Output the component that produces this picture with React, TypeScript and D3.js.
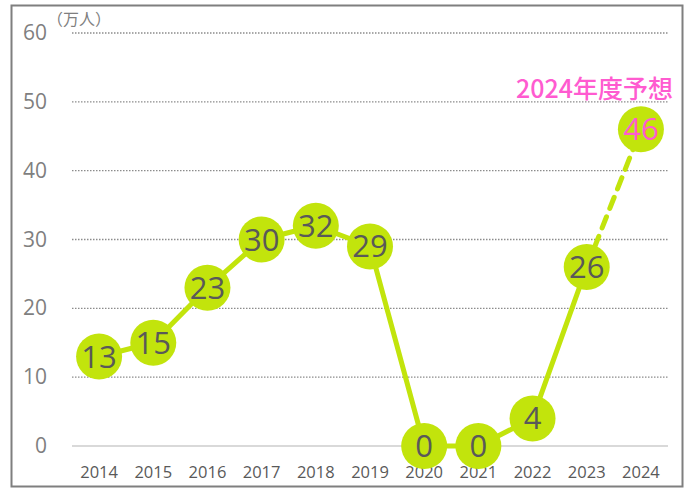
import React from "react";
import * as d3 from "d3";

const years = ["2014","2015","2016","2017","2018","2019","2020","2021","2022","2023","2024"];
const visitors = [13, 15, 23, 30, 32, 29, 0, 0, 4, 26, 46];
const yTicks = [0, 10, 20, 30, 40, 50, 60];
const unitLabel = "（万人）";
const forecastLabel = "2024年度予想";

export default function App() {
  const W = 687, H = 490;
  const x = d3.scaleBand<string>().domain(years).range([72, 668]);
  const y = d3.scaleLinear().domain([0, 60]).range([446, 33]);
  const cx = (i: number) => (x(years[i]) as number) + x.bandwidth() / 2;
  const line = d3.line<number>().x((_, i) => cx(i)).y(d => y(d));
  const solid = visitors.slice(0, 10);
  const lastTwo = visitors.slice(9);
  const green = "#c2e40c";
  const font = "'Open Sans', 'Noto Sans', sans-serif";
  return (
    <div style={{ position: "fixed", left: 0, top: 0 }}>
      <svg width={W} height={H} style={{ display: "block", background: "#fff" }}>
        <rect x={11.5} y={5.5} width={671} height={481} fill="#fff" stroke="#7f7f7f" strokeWidth={2} />
        {yTicks.map(t => (
          <g key={t}>
            <line x1={72} x2={668} y1={y(t)} y2={y(t)}
              stroke={t === 0 ? "#d9d9d9" : "#8c8c8c"} strokeWidth={t === 0 ? 2 : 1.3}
              strokeDasharray={t === 0 ? undefined : "1.5,1.5"} />
            <text x={47} y={y(t) + 7} textAnchor="end" fontSize={21} fill="#7f7f7f" fontFamily={font}>{t}</text>
          </g>
        ))}
        <text x={47} y={25} fontSize={16} fill="#7f7f7f" fontFamily="'Noto Sans CJK JP', sans-serif">{unitLabel}</text>
        {years.map((yr, i) => (
          <text key={yr} x={cx(i)} y={478} textAnchor="middle" fontSize={16.5} fill="#595959" fontFamily={font}>{yr}</text>
        ))}
        <path d={line(solid) || ""} fill="none" stroke={green} strokeWidth={5} strokeLinejoin="round" />
        <path d={d3.line<number>().x((_, i) => cx(i + 9)).y(d => y(d))(lastTwo) || ""}
          fill="none" stroke={green} strokeWidth={5} strokeDasharray="12,9" strokeLinecap="round" />
        {visitors.map((v, i) => (
          <g key={i}>
            <circle cx={cx(i)} cy={y(v)} r={23} fill={green} />
            <text x={cx(i)} y={y(v) + 11} textAnchor="middle" fontSize={31}
              fill={i === 10 ? "#ff5bd0" : "#595959"} fontFamily={font}>{v}</text>
          </g>
        ))}
        <text x={673} y={98} textAnchor="end" fontSize={25} fontWeight={500} fill="#ff5bd0"
          fontFamily="'Noto Sans CJK JP', sans-serif">{forecastLabel}</text>
      </svg>
    </div>
  );
}
